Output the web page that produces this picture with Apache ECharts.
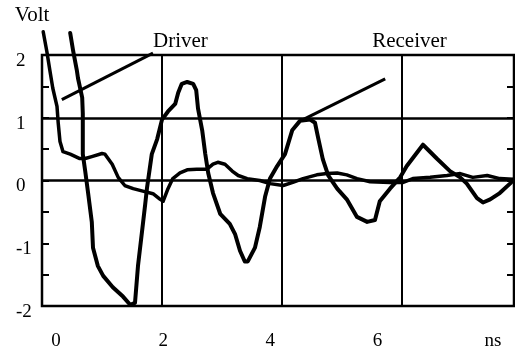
<!DOCTYPE html>
<html>
<head>
<meta charset="utf-8">
<script src="https://cdn.jsdelivr.net/npm/echarts@6/dist/echarts.min.js"></script>
<style>
  html, body { margin: 0; padding: 0; background: #fff; }
  #chart { width: 515px; height: 351px; }
</style>
</head>
<body>
<div id="chart"></div>
<script>
// traces (time in grid units of 2 ns per division, volts)
const driverTime = [0.02, 0.08, 0.13, 0.18, 0.25, 0.27, 0.30, 0.35, 0.47, 0.63, 0.72, 0.83, 1.00, 1.05, 1.17, 1.27,
  1.38, 1.52, 1.68, 1.85, 1.97, 2.02, 2.10, 2.18, 2.30, 2.42, 2.58, 2.75, 2.85, 2.93, 3.05, 3.17, 3.27, 3.42,
  3.63, 3.80, 4.02, 4.18, 4.35, 4.58, 4.75, 4.92, 5.08, 5.25, 5.47, 5.80, 6.02, 6.18, 6.47, 6.75, 6.97, 7.18,
  7.42, 7.63, 7.85];
const driverVolt = [2.37, 2.06, 1.76, 1.47, 1.18, 0.92, 0.62, 0.46, 0.42, 0.35, 0.35, 0.38, 0.43, 0.42, 0.26, 0.05,
  -0.08, -0.13, -0.17, -0.21, -0.30, -0.33, -0.13, 0.03, 0.12, 0.17, 0.18, 0.18, 0.26, 0.29, 0.26, 0.15, 0.08, 0.03,
  0.00, -0.05, -0.08, -0.03, 0.03, 0.09, 0.11, 0.12, 0.09, 0.03, -0.02, -0.03, -0.03, 0.03, 0.05, 0.08, 0.11, 0.05,
  0.08, 0.03, 0.02];

const receiverTime = [0.47, 0.52, 0.58, 0.60, 0.67, 0.68, 0.68, 0.68, 0.72, 0.77, 0.83, 0.85, 0.93, 1.02, 1.18, 1.35,
  1.47, 1.50, 1.55, 1.60, 1.67, 1.72, 1.75, 1.83, 1.92, 2.00, 2.10, 2.22, 2.27, 2.33, 2.42, 2.52, 2.57, 2.60,
  2.67, 2.72, 2.77, 2.85, 2.97, 3.13, 3.22, 3.30, 3.38, 3.43, 3.55, 3.63, 3.72, 3.80, 3.92, 4.05, 4.17, 4.30,
  4.47, 4.55, 4.60, 4.68, 4.77, 4.92, 5.08, 5.25, 5.42, 5.55, 5.63, 5.80, 5.97, 6.08, 6.35, 6.58, 6.80, 6.97,
  7.08, 7.25, 7.35, 7.47, 7.63, 7.80, 7.87];
const receiverVolt = [2.35, 2.06, 1.76, 1.63, 1.32, 1.07, 0.77, 0.42, 0.15, -0.21, -0.66, -1.07, -1.36, -1.52, -1.70, -1.85,
  -1.98, -2.00, -1.95, -1.36, -0.79, -0.38, -0.12, 0.42, 0.66, 0.97, 1.10, 1.22, 1.40, 1.54, 1.57, 1.54, 1.44, 1.15,
  0.80, 0.43, 0.12, -0.20, -0.53, -0.69, -0.86, -1.12, -1.29, -1.29, -1.07, -0.74, -0.25, 0.03, 0.23, 0.42, 0.80, 0.95,
  0.97, 0.92, 0.69, 0.34, 0.08, -0.13, -0.30, -0.58, -0.66, -0.63, -0.33, -0.13, 0.05, 0.23, 0.57, 0.35, 0.15, 0.05,
  -0.05, -0.28, -0.35, -0.30, -0.20, -0.05, 0.02];

// leader lines from the captions to the traces
const driverPointerTime = [0.33, 1.85];
const driverPointerVolt = [1.29, 2.03];
const receiverPointerTime = [4.35, 5.72];
const receiverPointerVolt = [0.97, 1.62];

const yGridValues = [0, 1];
// printed time labels sit on their own scale in the original
const xLabelValues = [0, 2, 4, 6, 8.16];
const xLabelTexts = ['0', '2', '4', '6', 'ns'];

const zip = (xs, ys) => xs.map((x, i) => [x, ys[i]]);

const font = 'Liberation Serif';
const chart = echarts.init(document.getElementById('chart'));

const traceStyle = (w) => ({ color: '#000', width: w, cap: 'round', join: 'round' });
const tickStyle = { color: '#000', width: 2 };

chart.setOption({
  animation: false,
  backgroundColor: '#fff',
  textStyle: { fontFamily: font, color: '#000' },
  grid: {
    left: 42, top: 55, width: 472, height: 253,
    show: true, borderColor: '#000', borderWidth: 2.5, backgroundColor: 'transparent'
  },
  xAxis: [
    {
      type: 'value', min: 0, max: 7.867, interval: 2, position: 'bottom',
      axisLine: { show: false, onZero: false }, axisTick: { show: false }, axisLabel: { show: false },
      splitLine: { show: true, lineStyle: { color: '#000', width: 2 } }
    },
    {
      type: 'value', min: -0.263, max: 8.551, position: 'bottom',
      axisLine: { show: false, onZero: false }, axisTick: { show: false }, splitLine: { show: false },
      axisLabel: {
        customValues: xLabelValues,
        margin: 26,
        fontFamily: font, fontSize: 19, color: '#000',
        formatter: (v) => xLabelTexts[xLabelValues.indexOf(v)]
      }
    }
  ],
  yAxis: [
    {
      type: 'value', min: -2, max: 2, interval: 1, position: 'left',
      name: 'Volt', nameLocation: 'end', nameGap: 29,
      nameTextStyle: { fontFamily: font, fontSize: 21, color: '#000', align: 'center', padding: [0, 20, 0, 0] },
      axisLine: { show: false, onZero: false },
      axisTick: { show: true, inside: true, length: 7, lineStyle: tickStyle },
      minorTick: { show: true, splitNumber: 2, length: 7, lineStyle: tickStyle },
      splitLine: { show: false },
      axisLabel: {
        fontFamily: font, fontSize: 19, color: '#000',
        align: 'left', margin: 26, verticalAlign: 'top', lineHeight: 12
      }
    },
    {
      type: 'value', min: -2, max: 2, interval: 1, position: 'right',
      axisLine: { show: false, onZero: false },
      axisLabel: { show: false }, splitLine: { show: false },
      axisTick: { show: true, inside: true, length: 7, lineStyle: tickStyle },
      minorTick: { show: true, splitNumber: 2, length: 7, lineStyle: tickStyle }
    }
  ],
  series: [
    {
      name: 'Driver', type: 'line', xAxisIndex: 0, yAxisIndex: 0,
      data: zip(driverTime, driverVolt),
      showSymbol: false, clip: false,
      lineStyle: traceStyle(3.5),
      markLine: {
        silent: true, symbol: 'none', label: { show: false },
        lineStyle: { color: '#000', type: 'solid', width: 2.5 },
        data: yGridValues.map(v => ({ yAxis: v }))
      }
    },
    {
      name: 'Receiver', type: 'line', xAxisIndex: 0, yAxisIndex: 0,
      data: zip(receiverTime, receiverVolt),
      showSymbol: false, clip: false,
      lineStyle: traceStyle(4)
    },
    {
      name: 'DriverPointer', type: 'line', xAxisIndex: 0, yAxisIndex: 0,
      data: zip(driverPointerTime, driverPointerVolt),
      showSymbol: false, clip: false,
      lineStyle: { color: '#000', width: 3 },
      endLabel: {
        show: true, formatter: 'Driver', offset: [-8, -12],
        fontFamily: font, fontSize: 21, color: '#000'
      }
    },
    {
      name: 'ReceiverPointer', type: 'line', xAxisIndex: 0, yAxisIndex: 0,
      data: zip(receiverPointerTime, receiverPointerVolt),
      showSymbol: false, clip: false,
      lineStyle: { color: '#000', width: 3 },
      endLabel: {
        show: true, formatter: 'Receiver', offset: [-21, -37],
        fontFamily: font, fontSize: 21, color: '#000'
      }
    }
  ]
});
</script>
</body>
</html>
